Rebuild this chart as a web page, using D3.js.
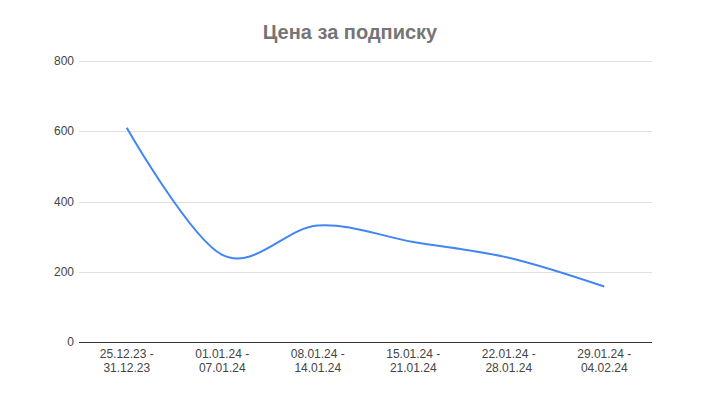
<!DOCTYPE html>
<html>
<head>
<meta charset="utf-8">
<script src="https://cdn.jsdelivr.net/npm/d3@7"></script>
<style>
  body { margin: 0; background: #fff; }
  text { font-family: "Liberation Sans", Arial, sans-serif; }
</style>
</head>
<body>
<svg width="708" height="406"></svg>
<script>
// chart data
var weeks = [
  ["25.12.23 -", "31.12.23"],
  ["01.01.24 -", "07.01.24"],
  ["08.01.24 -", "14.01.24"],
  ["15.01.24 -", "21.01.24"],
  ["22.01.24 -", "28.01.24"],
  ["29.01.24 -", "04.02.24"]
];
var prices = [610, 248, 332, 285, 240, 158];
var yTicks = [0, 200, 400, 600, 800];

var svg = d3.select("svg"),
    width = +svg.attr("width"),
    height = +svg.attr("height");

var plotLeft = 79, plotRight = 652, plotTop = 61, plotBottom = 342;

var x = d3.scalePoint()
    .domain(d3.range(weeks.length))
    .range([plotLeft, plotRight])
    .padding(0.5);

var y = d3.scaleLinear()
    .domain([0, 800])
    .range([plotBottom, plotTop]);

// title
svg.append("text")
    .attr("x", 350)
    .attr("y", 39)
    .attr("text-anchor", "middle")
    .style("font-size", "20px")
    .style("font-weight", "bold")
    .style("fill", "#757575")
    .text("Цена за подписку");

// grid
var grid = svg.append("g");
grid.selectAll("line")
    .data(yTicks.filter(function(d) { return d > 0; }))
    .enter().append("line")
    .attr("x1", plotLeft).attr("x2", plotRight)
    .attr("y1", function(d) { return Math.round(y(d)) + 0.5; })
    .attr("y2", function(d) { return Math.round(y(d)) + 0.5; })
    .attr("stroke", "#e0e0e0")
    .attr("stroke-width", 1);

// y labels
svg.append("g").selectAll("text")
    .data(yTicks)
    .enter().append("text")
    .attr("x", plotLeft - 5)
    .attr("y", function(d) { return y(d) + 4; })
    .attr("text-anchor", "end")
    .style("font-size", "12px")
    .style("fill", "#444")
    .text(function(d) { return d; });

// baseline
svg.append("line")
    .attr("x1", plotLeft).attr("x2", plotRight)
    .attr("y1", Math.round(y(0)) + 0.5).attr("y2", Math.round(y(0)) + 0.5)
    .attr("stroke", "#333")
    .attr("stroke-width", 1);

// x labels
var xl = svg.append("g").selectAll("text")
    .data(weeks)
    .enter().append("text")
    .attr("x", function(d, i) { return x(i); })
    .attr("y", plotBottom + 16)
    .attr("text-anchor", "middle")
    .style("font-size", "12px")
    .style("fill", "#444");
xl.append("tspan")
    .attr("x", function(d, i) { return x(i); })
    .text(function(d) { return d[0]; });
xl.append("tspan")
    .attr("x", function(d, i) { return x(i); })
    .attr("dy", 14)
    .text(function(d) { return d[1]; });

// line
var line = d3.line()
    .x(function(d, i) { return x(i); })
    .y(function(d) { return y(d); })
    .curve(d3.curveCardinal.tension(0));

svg.append("path")
    .datum(prices)
    .attr("fill", "none")
    .attr("stroke", "#4285f4")
    .attr("stroke-width", 2)
    .attr("d", line);
</script>
</body>
</html>
